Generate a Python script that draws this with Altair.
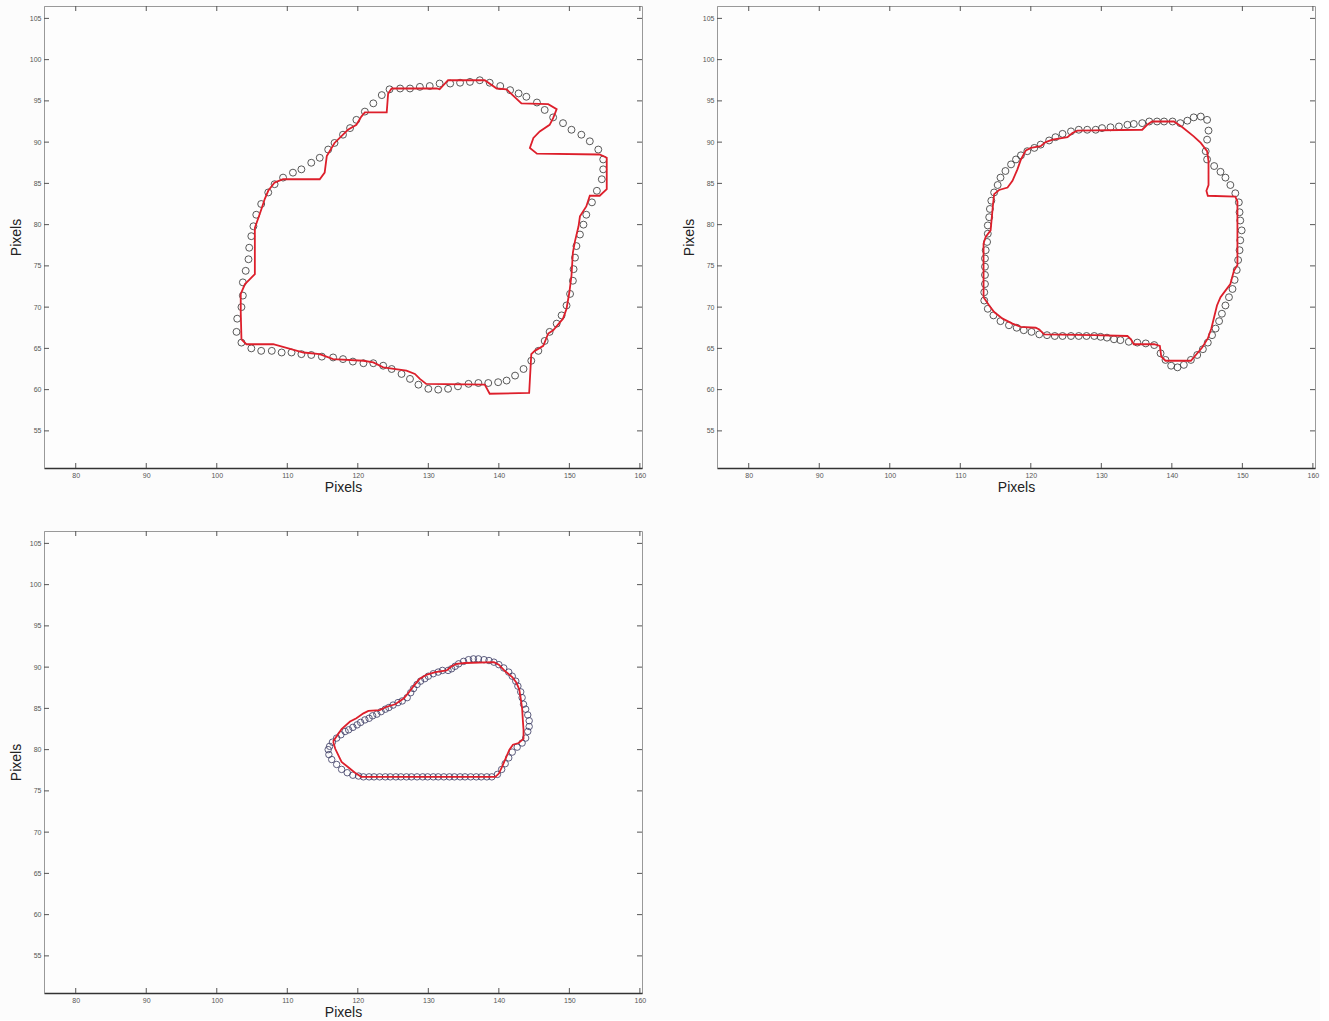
import altair as alt
import pandas as pd

# ---------------- data ----------------
X_TICKS = [80, 90, 100, 110, 120, 130, 140, 150, 160]
Y_TICKS = [55, 60, 65, 70, 75, 80, 85, 90, 95, 100, 105]
X_DOMAIN = [75.5, 160.3]
Y_DOMAIN = [50.5, 106.5]

# Panel 1 - red contour
p1_red_x = [103.5, 103.4, 103.4, 104.0, 104.7, 105.4, 105.4, 106.3, 106.8, 107.3, 108.2, 109.4,
            114.6, 115.3, 115.6, 116.7, 118.6, 119.8, 120.5, 121.0, 124.1, 124.3, 124.8, 131.2,
            131.6, 132.8, 138.0, 139.7, 141.1, 143.2, 147.0, 148.2, 147.7, 147.2, 145.8, 144.9,
            144.4, 145.4, 154.3, 155.3, 155.3, 154.3, 152.9, 152.4, 151.5, 151.3, 150.8, 150.5,
            150.3, 150.0, 149.6, 149.1, 147.7, 147.0, 146.3, 145.1, 144.6, 144.3, 138.7, 138.0,
            129.7, 128.8, 128.1, 126.9, 123.6, 122.2, 120.8, 116.5, 114.6, 112.3, 108.0, 104.2, 103.5]
p1_red_y = [66.1, 69.4, 71.6, 72.8, 73.4, 74.0, 79.6, 81.8, 83.1, 84.1, 85.1, 85.5,
            85.5, 86.3, 88.3, 89.9, 91.5, 92.1, 93.1, 93.6, 93.6, 95.9, 96.5, 96.5,
            96.4, 97.5, 97.5, 96.5, 96.4, 94.7, 94.6, 94.0, 92.9, 92.1, 91.3, 90.5,
            89.3, 88.6, 88.5, 88.1, 84.3, 83.5, 83.5, 82.2, 81.0, 79.8, 78.0, 76.6,
            73.8, 71.8, 69.8, 68.6, 67.2, 66.8, 65.3, 64.7, 64.3, 59.6, 59.5, 60.6,
            60.7, 61.3, 61.9, 62.3, 62.7, 63.3, 63.5, 63.7, 64.3, 64.5, 65.5, 65.5, 66.1]

# Panel 1 - circles
p1_circ_x = [123.4, 124.5, 126.0, 127.4, 128.8, 130.2, 131.6, 133.1, 134.5, 135.9, 137.3, 138.7,
             140.2, 141.6, 142.8, 143.9, 145.4, 146.5, 147.7, 149.1, 150.3, 151.7, 152.9, 154.1,
             154.8, 154.8, 154.6, 153.9, 153.2, 152.4, 152.0, 151.5, 151.0, 150.8, 150.6, 150.5,
             150.1, 149.6, 148.9, 148.2, 147.2, 146.5, 145.6, 144.6, 143.5, 142.3, 141.1, 139.9,
             138.5, 137.1, 135.7, 134.2, 132.8, 131.4, 130.0, 128.6, 127.4, 126.2, 124.8, 123.6,
             122.2, 120.8, 119.3, 117.9, 116.5, 114.9, 113.4, 112.0, 110.6, 109.2, 107.8, 106.3,
             104.9, 103.5, 102.8, 102.9, 103.5, 103.7, 103.7, 104.1, 104.5, 104.6, 104.9, 105.2,
             105.6, 106.3, 107.3, 108.2, 109.4, 110.8, 112.0, 113.4, 114.6, 115.8, 116.7, 117.9,
             118.9, 119.8, 121.0, 122.2]
p1_circ_y = [95.7, 96.4, 96.5, 96.5, 96.7, 96.8, 97.1, 97.1, 97.2, 97.3, 97.5, 97.2,
             96.8, 96.3, 95.9, 95.5, 94.8, 93.9, 93.0, 92.3, 91.5, 90.9, 90.1, 89.1,
             87.9, 86.7, 85.5, 84.1, 82.7, 81.2, 80.0, 78.8, 77.4, 76.0, 74.6, 73.2,
             71.6, 70.2, 69.0, 68.0, 67.0, 65.9, 64.7, 63.5, 62.5, 61.7, 61.1, 60.9,
             60.8, 60.8, 60.7, 60.4, 60.1, 60.0, 60.1, 60.6, 61.3, 61.9, 62.5, 62.9,
             63.2, 63.2, 63.4, 63.7, 63.9, 64.0, 64.2, 64.3, 64.5, 64.5, 64.7, 64.7,
             65.0, 65.7, 67.0, 68.6, 70.0, 71.4, 73.0, 74.4, 75.8, 77.2, 78.6, 79.8,
             81.2, 82.5, 83.9, 84.9, 85.7, 86.3, 86.7, 87.5, 88.1, 89.1, 89.9, 90.9,
             91.7, 92.7, 93.7, 94.7]

# Panel 2 - red contour
p2_red_x = [113.3, 113.3, 113.6, 114.3, 114.6, 114.8, 115.5, 116.7, 117.4, 118.1, 118.6, 119.3,
            120.0, 121.4, 122.1, 123.1, 125.2, 125.9, 126.6, 135.8, 136.5, 137.2, 140.3, 141.5,
            143.1, 144.1, 145.0, 145.2, 145.2, 144.9, 145.1, 149.0, 149.3, 149.3, 148.8, 148.3,
            147.6, 146.9, 146.4, 146.0, 145.6, 145.1, 144.3, 143.4, 142.7, 139.1, 138.5, 138.3,
            137.5, 134.6, 134.2, 133.7, 129.0, 121.9, 121.2, 120.7, 118.6, 117.4, 116.0, 114.8,
            114.1, 113.3]
p2_red_y = [71.2, 77.7, 78.5, 79.3, 82.1, 83.7, 84.2, 84.5, 85.3, 86.7, 87.9, 89.0,
            89.3, 89.5, 90.0, 90.3, 90.6, 91.1, 91.4, 91.5, 92.1, 92.5, 92.5, 91.8,
            90.7, 89.9, 88.9, 87.7, 84.8, 84.1, 83.5, 83.4, 82.8, 75.1, 74.4, 72.8,
            72.0, 71.2, 70.2, 68.8, 67.4, 66.2, 65.1, 64.2, 63.5, 63.5, 64.0, 65.3,
            65.5, 65.5, 66.1, 66.5, 66.6, 66.7, 67.3, 67.5, 67.6, 68.0, 68.6, 69.4,
            70.2, 71.2]

# Panel 2 - circles
p2_circ_x = [125.7, 126.8, 128.0, 129.2, 130.1, 131.3, 132.5, 133.7, 134.6, 135.8, 136.8, 137.9,
             138.9, 140.1, 141.2, 142.2, 143.1, 144.1, 145.0, 145.2, 145.0, 144.8, 145.0, 146.0,
             146.9, 147.6, 148.3, 149.0, 149.5, 149.6, 149.7, 149.9, 149.7, 149.6, 149.4, 149.2,
             148.9, 148.6, 148.1, 147.6, 147.1, 146.7, 146.2, 145.7, 145.1, 144.4, 143.6, 142.7,
             141.7, 140.8, 139.9, 139.1, 138.4, 137.5, 136.3, 135.1, 133.9, 132.7, 131.8, 130.8,
             129.9, 129.0, 127.9, 126.8, 125.7, 124.5, 123.4, 122.3, 121.2, 120.1, 119.0, 118.0,
             116.9, 115.7, 114.7, 113.9, 113.4, 113.4, 113.5, 113.5, 113.5, 113.5, 113.6, 113.8,
             113.9, 113.9, 114.1, 114.2, 114.4, 114.8, 115.3, 115.7, 116.4, 117.2, 117.9, 118.6,
             119.5, 120.5, 121.4, 122.6, 123.5, 124.5]
p2_circ_y = [91.3, 91.5, 91.5, 91.5, 91.7, 91.8, 91.9, 92.1, 92.2, 92.3, 92.5, 92.5,
             92.5, 92.5, 92.3, 92.6, 93.0, 93.1, 92.7, 91.4, 90.3, 88.9, 87.9, 87.1,
             86.4, 85.7, 84.8, 83.8, 82.7, 81.5, 80.5, 79.3, 78.1, 76.9, 75.7, 74.5,
             73.3, 72.2, 71.2, 70.2, 69.2, 68.3, 67.4, 66.6, 65.7, 64.9, 64.2, 63.6,
             63.0, 62.7, 62.9, 63.6, 64.4, 65.4, 65.6, 65.7, 65.8, 66.0, 66.1, 66.3,
             66.4, 66.5, 66.5, 66.5, 66.5, 66.5, 66.5, 66.6, 66.7, 67.0, 67.2, 67.5,
             67.8, 68.3, 69.0, 69.8, 70.8, 71.8, 72.8, 73.9, 74.9, 75.9, 76.9, 77.9,
             78.9, 79.9, 80.9, 81.9, 82.9, 83.9, 84.8, 85.7, 86.5, 87.3, 87.9, 88.4,
             88.9, 89.3, 89.7, 90.2, 90.6, 91.0]

# Panel 3 - red contour
p3_red_x = [116.5, 117.7, 118.9, 119.8, 120.8, 121.5, 123.1, 124.1, 125.3, 126.5, 127.2, 127.9,
            128.8, 129.8, 131.0, 132.6, 133.3, 134.0, 135.2, 139.3, 140.0, 140.9, 141.9, 142.5,
            142.9, 143.1, 143.3, 143.4, 143.5, 143.5, 142.8, 142.0, 141.5, 141.0, 140.5, 140.0, 139.5,
            120.5, 119.6, 118.6, 117.7, 117.3, 116.8, 116.5]
p3_red_y = [81.0, 82.5, 83.4, 83.8, 84.4, 84.7, 84.8, 85.2, 85.5, 86.2, 86.9, 87.7,
            88.6, 89.1, 89.4, 89.6, 90.1, 90.4, 90.5, 90.6, 90.3, 89.5, 88.8, 88.1,
            87.3, 86.2, 85.0, 83.6, 82.4, 81.3, 80.8, 80.6, 80.0, 79.0, 78.0, 77.1, 76.7,
            76.7, 77.2, 77.9, 78.5, 79.2, 80.1, 81.0]

# Panel 3 - circles
p3_circ_x = [115.8, 115.9, 116.3, 117.0, 117.7, 118.5, 119.3, 120.1, 120.8, 121.6, 122.3, 123.1,
             123.9, 124.6, 125.4, 126.1, 126.9, 127.6, 128.4, 129.2, 129.9, 130.7, 131.4, 132.2,
             133.0, 133.7, 134.5, 135.2, 136.0, 136.8, 137.5, 138.3, 139.0, 139.8, 140.4, 140.9,
             141.4, 141.9, 142.6, 143.3, 143.8, 144.1, 144.3, 144.3, 144.1, 143.8, 143.5, 143.3,
             143.1, 142.7, 142.4, 141.9, 141.4, 140.7, 140.0, 139.3, 138.6, 137.9, 137.1, 136.4,
             135.7, 135.0, 134.3, 133.8, 133.3, 132.8, 132.0, 131.4, 130.7, 130.0, 129.5, 128.9,
             128.4, 127.9, 127.5, 127.0, 126.3, 125.7, 125.0, 124.4, 123.9, 123.3, 122.7, 122.1,
             121.6, 121.0, 120.4, 119.9, 119.3, 118.7, 118.2, 117.6, 117.0, 116.4, 116.0]
p3_circ_y = [80.0, 79.4, 78.8, 78.2, 77.6, 77.2, 76.9, 76.8, 76.7, 76.7, 76.7, 76.7,
             76.7, 76.7, 76.7, 76.7, 76.7, 76.7, 76.7, 76.7, 76.7, 76.7, 76.7, 76.7,
             76.7, 76.7, 76.7, 76.7, 76.7, 76.7, 76.7, 76.7, 76.7, 77.0, 77.6, 78.3,
             79.0, 79.7, 80.3, 80.8, 81.4, 82.2, 82.8, 83.5, 84.2, 84.9, 85.5, 86.3,
             87.0, 87.7, 88.3, 88.9, 89.4, 89.9, 90.3, 90.6, 90.8, 90.9, 91.0, 91.0,
             90.9, 90.7, 90.4, 90.1, 89.8, 89.6, 89.6, 89.4, 89.2, 88.9, 88.6, 88.3,
             87.9, 87.4, 86.9, 86.3, 85.9, 85.7, 85.4, 85.1, 84.9, 84.6, 84.3, 84.1,
             83.8, 83.6, 83.3, 83.0, 82.7, 82.4, 82.2, 81.8, 81.4, 80.9, 80.4]

# ---------------- chart ----------------
W, H = 598, 462
RED = "#dd1f2b"
TICK_COLOR = "#555555"


def make_panel(lx, ly, cx, cy, circ_color, circ_size):
    xs = alt.Scale(domain=X_DOMAIN, nice=False, zero=False)
    ys = alt.Scale(domain=Y_DOMAIN, nice=False, zero=False)
    x_axis = alt.Axis(values=X_TICKS, title="Pixels", ticks=False, grid=False,
                      labelFontSize=7, labelColor="#555555", labelPadding=3,
                      labelFlush=False, labelFont="Liberation Sans",
                      domainColor="#333333", domainWidth=1.5,
                      titleFont="Liberation Sans", titleFontSize=14,
                      titleFontWeight="normal", titleColor="#222222",
                      titleY=19, titleBaseline="middle")
    y_axis = alt.Axis(values=Y_TICKS, title="Pixels", ticks=False, grid=False,
                      labelFontSize=7, labelColor="#555555", labelPadding=3,
                      labelFont="Liberation Sans",
                      domainColor="#999999", domainWidth=1,
                      titleFont="Liberation Sans", titleFontSize=14,
                      titleFontWeight="normal", titleColor="#222222",
                      titleX=-28, titleBaseline="middle")

    line_df = pd.DataFrame({"x": lx, "y": ly, "i": list(range(len(lx)))})
    circ_df = pd.DataFrame({"x": cx, "y": cy})
    xt_df = pd.DataFrame({"v": X_TICKS})
    yt_df = pd.DataFrame({"v": Y_TICKS})

    circles = alt.Chart(circ_df).mark_point(
        shape="circle", filled=False, size=circ_size, strokeWidth=0.9,
        color=circ_color, opacity=0.9, clip=True
    ).encode(
        x=alt.X("x:Q", scale=xs, axis=x_axis),
        y=alt.Y("y:Q", scale=ys, axis=y_axis),
    )
    line = alt.Chart(line_df).mark_line(
        color=RED, strokeWidth=1.8, clip=True
    ).encode(
        x=alt.X("x:Q", scale=xs, axis=x_axis),
        y=alt.Y("y:Q", scale=ys, axis=y_axis),
        order="i:Q",
    )
    top_t = alt.Chart(xt_df).mark_rule(color=TICK_COLOR, strokeWidth=1).encode(
        x=alt.X("v:Q", scale=xs, axis=x_axis), y=alt.value(0), y2=alt.value(5))
    bot_t = alt.Chart(xt_df).mark_rule(color=TICK_COLOR, strokeWidth=1).encode(
        x=alt.X("v:Q", scale=xs, axis=x_axis), y=alt.value(H - 5), y2=alt.value(H))
    left_t = alt.Chart(yt_df).mark_rule(color=TICK_COLOR, strokeWidth=1).encode(
        y=alt.Y("v:Q", scale=ys, axis=y_axis), x=alt.value(0), x2=alt.value(5))
    right_t = alt.Chart(yt_df).mark_rule(color=TICK_COLOR, strokeWidth=1).encode(
        y=alt.Y("v:Q", scale=ys, axis=y_axis), x=alt.value(W - 5), x2=alt.value(W))

    return alt.layer(circles, line, top_t, bot_t, left_t, right_t).properties(
        width=W, height=H)


p1 = make_panel(p1_red_x, p1_red_y, p1_circ_x, p1_circ_y, "#333333", 48)
p2 = make_panel(p2_red_x, p2_red_y, p2_circ_x, p2_circ_y, "#333333", 48)
p3 = make_panel(p3_red_x, p3_red_y, p3_circ_x, p3_circ_y, "#3a3a62", 42)

top_row = alt.hconcat(p1, p2, spacing=34)
chart = alt.vconcat(top_row, p3, spacing=35).properties(
    padding={"left": 8, "top": 5, "right": 0, "bottom": 0},
    background="#fcfcfc",
).configure_view(stroke="#999999", strokeWidth=1, fill="#fdfdfd")

chart.save("out.html", embed_options={"renderer": "svg", "actions": False})
